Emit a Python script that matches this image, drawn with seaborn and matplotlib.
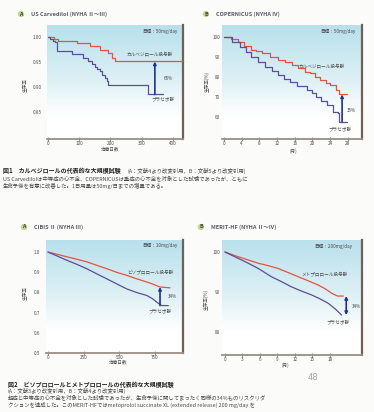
import numpy as np
import matplotlib
matplotlib.use("Agg")
import matplotlib.pyplot as plt
import seaborn as sns
from matplotlib.colors import LinearSegmentedColormap

# ---- US Carvedilol (days, survival fraction) ----
us_days_carv = [0, 18, 33, 92, 134, 166, 193, 204, 214, 428]
us_surv_carv = [1.000, 0.995, 0.991, 0.987, 0.981, 0.974, 0.967, 0.957, 0.951, 0.951]
us_days_plac = [0, 8, 16, 24, 30, 76, 113, 129, 142, 150, 158, 166, 174, 182, 188, 193, 321, 369]
us_surv_plac = [1.000, 0.996, 0.992, 0.989, 0.971, 0.966, 0.957, 0.951, 0.946, 0.941, 0.936,
                0.931, 0.924, 0.917, 0.911, 0.904, 0.885, 0.885]

# ---- COPERNICUS (months, survival %) ----
cop_month_carv = [0, 1.5, 3.2, 4.5, 6.2, 7.3, 8.5, 10.5, 12.3, 13.8, 15.3, 16.8, 18.3,
                  19.4, 20.5, 21.7, 23.0, 23.9, 25.4, 26.0, 27.7]
cop_surv_carv = [100, 99.0, 97.7, 95.5, 93.5, 92.8, 91.8, 90.0, 88.5, 87.3, 86.0, 84.5, 82.7,
                 81.8, 80.0, 78.5, 77.0, 76.0, 73.5, 71.3, 71.3]
cop_month_plac = [0, 1.8, 3.6, 5.0, 6.2, 7.8, 9.3, 10.8, 12.3, 13.5, 14.9, 16.5, 18.7,
                  19.8, 20.9, 22.0, 23.2, 24.7, 25.8, 26.0, 27.7]
cop_surv_plac = [100, 97.5, 95.2, 92.5, 90.2, 87.7, 85.2, 83.2, 81.0, 79.2, 77.7, 75.5, 73.5,
                 71.8, 70.2, 68.2, 66.0, 62.7, 61.8, 57.7, 57.7]

# ---- CIBIS II (days, survival fraction) ----
cib_days_biso = [0, 60, 131, 200, 271, 340, 411, 480, 551, 620, 692, 740, 785, 855]
cib_surv_biso = [1.0, 0.99, 0.977, 0.965, 0.952, 0.935, 0.918, 0.90, 0.885, 0.868, 0.852,
                 0.84, 0.827, 0.823]
cib_days_plac = [0, 60, 131, 200, 271, 340, 411, 480, 551, 620, 692, 730, 762, 797, 843]
cib_surv_plac = [1.0, 0.982, 0.96, 0.94, 0.918, 0.893, 0.868, 0.843, 0.818, 0.80, 0.785,
                 0.77, 0.752, 0.735, 0.735]

# ---- MERIT-HF (months, survival %) ----
mer_month_meto = [0, 2.3, 4.0, 5.7, 7.4, 9.1, 10.8, 12.6, 14.3, 16.0, 17.2, 18.3, 19.3, 20.3]
mer_surv_meto = [100, 98.8, 98.0, 97.2, 96.6, 95.9, 94.9, 93.8, 92.8, 91.75, 90.8, 89.7, 89.0, 89.0]
mer_month_plac = [0, 2.3, 4.0, 5.7, 8.0, 9.7, 11.4, 13.2, 14.9, 16.3, 17.7, 18.9, 20.0]
mer_surv_plac = [100, 98.4, 97.2, 95.9, 93.8, 92.6, 91.3, 90.2, 89.25, 88.3, 87.2, 85.8, 84.25]

sns.set_theme(style="white")
plt.rcParams["font.family"] = ["Noto Sans CJK JP", "DejaVu Sans"]

W, H = 374, 412
fig = plt.figure(figsize=(W / 100, H / 100), dpi=100)
fig.patch.set_facecolor("#fbfbf9")

RED = "#e5533c"
BLUE = "#5a4f98"
ARROW = "#1f2fa0"
TXT = "#4a4a4a"
AXC = "#9a8f86"
TICK = 3.3
sky = LinearSegmentedColormap.from_list(
    "sky", [(0, "#b8e0ec"), (0.5, "#dff1f5"), (0.8, "#ffffff"), (1, "#ffffff")])


def box(l, t, r, b):
    return [l / W, 1 - b / H, (r - l) / W, (b - t) / H]


def ftext(x, y, s, **kw):
    kw.setdefault("color", TXT)
    kw.setdefault("va", "center")
    fig.text(x / W, 1 - y / H, s, **kw)


def panel(rect, xlim, ylim, xticks, xtl, yticks, ytl, ypad):
    ax = fig.add_axes(box(*rect))
    ax.set_facecolor("none")
    grad = np.linspace(0, 1, 256).reshape(-1, 1)
    ax.imshow(grad, extent=[0, 1, 0, 1], transform=ax.transAxes, aspect="auto",
              cmap=sky, zorder=0)
    ax.set_xlim(*xlim)
    ax.set_ylim(*ylim)
    ax.set_xticks(xticks)
    ax.set_xticklabels(xtl)
    ax.set_yticks(yticks)
    ax.set_yticklabels(ytl)
    for s in ("top", "left"):
        ax.spines[s].set_visible(False)
    ax.spines["bottom"].set_color(AXC)
    ax.spines["bottom"].set_linewidth(1.3)
    ax.spines["right"].set_color("#6d625a")
    ax.spines["right"].set_linewidth(1.6)
    ax.tick_params(axis="x", direction="inout", length=2.5, width=0.8, color=AXC,
                   labelsize=TICK, labelcolor=TXT, pad=0.3, bottom=True)
    ax.tick_params(axis="y", length=0, labelsize=TICK, labelcolor=TXT, pad=ypad)
    ax.grid(False)
    return ax


def curve(ax, x, y, color, steps=True):
    kw = dict(drawstyle="steps-post") if steps else {}
    sns.lineplot(x=x, y=y, ax=ax, color=color, lw=0.9, estimator=None, legend=False,
                 zorder=3, **kw)


def arrow(ax, x, y0, y1, both=False):
    ax.annotate("", xy=(x, y1), xytext=(x, y0),
                arrowprops=dict(arrowstyle="<|-|>" if both else "-|>", color=ARROW,
                                lw=1.2, mutation_scale=4, shrinkA=0, shrinkB=0), zorder=4)


def small(ax, x, y, s, **kw):
    ax.text(x, y, s, fontsize=TICK, color=TXT, ha="center", va="center", zorder=5, **kw)


def badge(x, y, letter, title):
    ftext(x, y, letter, fontsize=3.8, fontweight="bold", color="#3b4a2a", ha="center",
          bbox=dict(boxstyle="circle,pad=0.12", fc="#bcd88e", ec="none"))
    ftext(x + 10, y, title, fontsize=4.0, fontweight="bold", color="#5a5a66", ha="left")


# A: US Carvedilol
axA = panel((47, 25, 183, 139), (-3, 432), (0.796, 1.024),
            [0, 100, 200, 300, 400], ["0", "100", "200", "300", "400"],
            [1.00, 0.95, 0.90, 0.85], ["1.00", "0.95", "0.90", "0.85"], 4)
curve(axA, us_days_carv, us_surv_carv, RED)
curve(axA, us_days_plac, us_surv_plac, BLUE)
arrow(axA, 342, 0.885, 0.951)
small(axA, 326, 0.966, "カルベジロール投与群")
small(axA, 368, 0.874, "プラセボ群")
small(axA, 384, 0.918, "65%")
small(axA, 358, 1.012, "目標：50mg/day")
badge(21, 14, "A", "US Carvedilol (NYHA Ⅱ～Ⅲ)")
ftext(25, 85, "生存率", fontsize=TICK, rotation=90, ha="center")
ftext(110, 149, "治療日数", fontsize=TICK, ha="center")

# B: COPERNICUS
axB = panel((222, 25, 362, 139), (-0.45, 31.2), (49, 106),
            [0, 4, 8, 12, 16, 20, 24, 28], ["0", "4", "8", "12", "16", "20", "24", "28"],
            [100, 90, 80, 70, 60], ["100", "90", "80", "70", "60"], 1.5)
curve(axB, cop_month_carv, cop_surv_carv, RED)
curve(axB, cop_month_plac, cop_surv_plac, BLUE)
arrow(axB, 26.7, 57.7, 71.3)
small(axB, 22.05, 85.5, "カルベジロール投与群")
small(axB, 26.2, 53.5, "プラセボ群")
small(axB, 28.9, 63.5, "35%")
small(axB, 25.7, 103, "目標：50mg/day")
badge(206, 14, "B", "COPERNICUS (NYHA Ⅳ)")
ftext(207, 82, "生存率(%)", fontsize=TICK, rotation=90, ha="center")
ftext(293, 151, "(月)", fontsize=TICK, ha="center")

# C: CIBIS II
axC = panel((46, 240, 183, 353), (-14, 946), (0.5, 1.06),
            [0, 250, 500, 750], ["0", "250", "500", "750"],
            [1.0, 0.9, 0.8, 0.7, 0.6, 0.5], ["1.0", "0.9", "0.8", "0.7", "0.6", "0.5"], 4)
curve(axC, cib_days_biso, cib_surv_biso, RED, steps=False)
curve(axC, cib_days_plac, cib_surv_plac, BLUE, steps=False)
arrow(axC, 785, 0.735, 0.827)
small(axC, 715, 0.896, "ビソプロロール投与群")
small(axC, 785, 0.704, "プラセボ群")
small(axC, 875, 0.779, "34%")
small(axC, 785, 1.035, "目標：10mg/day")
badge(24, 227, "A", "CIBIS Ⅱ (NYHA Ⅲ)")
ftext(25, 293, "生存率", fontsize=TICK, rotation=90, ha="center")
ftext(118, 362, "治療日数", fontsize=TICK, ha="center")

# D: MERIT-HF
axD = panel((222, 240, 362, 354.5), (-0.5, 23.5), (74.4, 103),
            [0, 3, 6, 9, 12, 15, 18], ["0", "3", "6", "9", "12", "15", "18"],
            [100, 90, 80], ["100", "90", "80"], 1.5)
curve(axD, mer_month_meto, mer_surv_meto, RED, steps=False)
curve(axD, mer_month_plac, mer_surv_plac, BLUE, steps=False)
arrow(axD, 20.8, 84.25, 89.0, both=True)
small(axD, 17.15, 94.25, "メトプロロール投与群")
small(axD, 19.4, 82.3, "プラセボ群")
small(axD, 22.6, 86.5, "34%")
small(axD, 18.5, 101.5, "目標：200mg/day")
badge(201, 227, "B", "MERIT-HF (NYHA Ⅱ～Ⅳ)")
ftext(206, 300, "生存率(%)", fontsize=TICK, rotation=90, ha="center")
ftext(285, 365, "(月)", fontsize=TICK, ha="center")

# Figure captions
HEAD = 4.3
CAP = 3.9
ftext(3, 171, "図1　カルベジロールの代表的な大規模試験", fontsize=HEAD, fontweight="bold",
      color="#222222")
ftext(128, 171, "(A：文献4より改変引用，B：文献5より改変引用)", fontsize=CAP)
ftext(3, 179, "US Carvedilolは中等症の心不全、COPERNICUSは重症の心不全を対象とした試験であったが、ともに",
      fontsize=CAP)
ftext(3, 186, "生命予後を有意に改善した。1日用量は50mg/日までの増量である。", fontsize=CAP)

ftext(8, 384.5, "図2　ビソプロロールとメトプロロールの代表的な大規模試験", fontsize=HEAD,
      fontweight="bold", color="#222222")
ftext(8, 391, "(A：文献3より改変引用，B：文献4より改変引用)", fontsize=CAP)
ftext(8, 398, "軽症と中等症の心不全を対象とした試験であったが、生命予後に関してまったく同様の34%ものリスクリダ",
      fontsize=CAP)
ftext(8, 405, "クションを達成した。このMERIT-HFではmetoprolol succinate XL (extended release) 200 mg/day を",
      fontsize=CAP)

ftext(313, 378, "48", fontsize=6, color="#a5a5a5", ha="center", family=["DejaVu Sans"])

fig.savefig("out.png", dpi=100, facecolor=fig.get_facecolor())
